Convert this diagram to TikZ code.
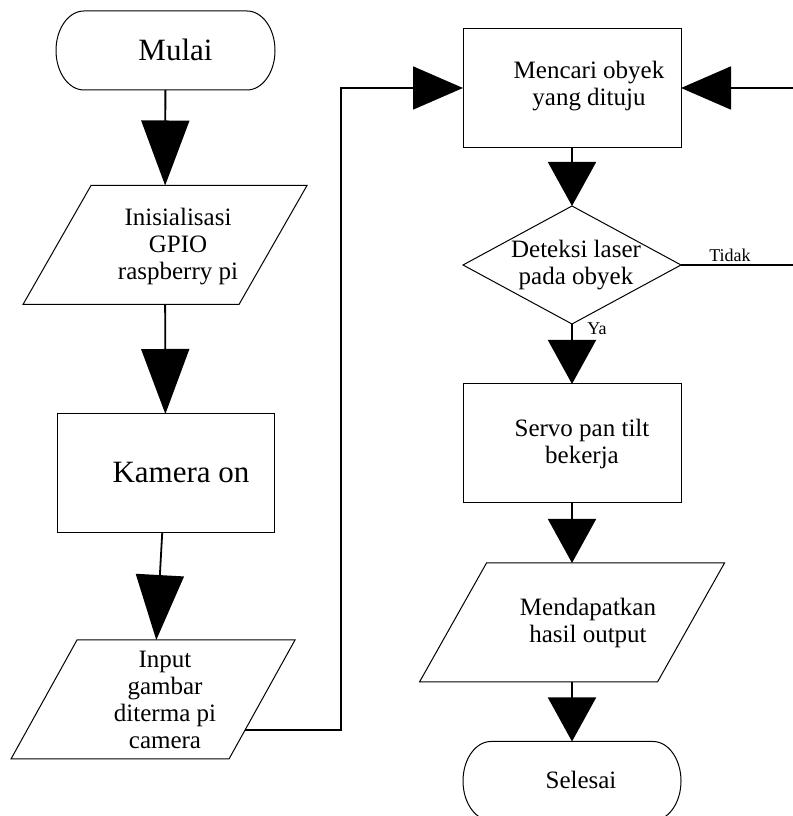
\documentclass[tikz,border=0pt]{standalone}
\usepackage{fontspec}
\setmainfont{Liberation Serif}
\usetikzlibrary{shapes.geometric,arrows.meta,calc}

% outline of a start/stop terminal with elliptic ends
\newcommand{\termoutline}[1]{%
  \draw[line width=1pt] ([xshift=28pt]#1.north west) -- ([xshift=-28pt]#1.north east)
    arc[start angle=90, end angle=-90, x radius=28pt, y radius=39.5pt]
    -- ([xshift=28pt]#1.south west)
    arc[start angle=270, end angle=90, x radius=28pt, y radius=39.5pt] -- cycle;}
% outline of an input/output parallelogram, #2 = slant offset
\newcommand{\iooutline}[2]{%
  \draw[line width=1pt] (#1.south west) -- ([xshift=-#2]#1.south east)
    -- (#1.north east) -- ([xshift=#2]#1.north west) -- cycle;}

\begin{document}
\begin{tikzpicture}[x=1pt,y=1pt,
  txt/.style={align=center,font=\fontsize{25}{27}\selectfont},
  bigtxt/.style={align=center,font=\fontsize{31}{33}\selectfont},
  smalltxt/.style={font=\fontsize{18}{20}\selectfont},
  term/.style={minimum width=219pt,minimum height=79pt,inner sep=0pt,outer sep=0pt},
  proc/.style={draw,line width=1pt,minimum width=218pt,minimum height=119pt,inner sep=0pt,outer sep=0pt},
  io/.style={minimum width=284pt,minimum height=119pt,inner sep=0pt,outer sep=0pt},
  decide/.style={draw,line width=1pt,diamond,minimum width=218pt,minimum height=118pt,inner sep=0pt,outer sep=0pt},
  conn/.style={line width=1.8pt},
  longarr/.style={-{Triangle[length=65pt,width=48pt]}},
  shortarr/.style={-{Triangle[length=44pt,width=48pt]}},
  sidearr/.style={-{Triangle[length=50pt,width=43pt]}}]
\useasboundingbox (0,0) rectangle (792,816);

% left column
\node[term] (mulai) at (165.5,765.5) {};
\termoutline{mulai}
\node[bigtxt] (mulaitxt) at (175.5,766) {Mulai};
\node[io] (init) at (165,571) {};
\iooutline{init}{68pt}
\node[txt] (inittxt) at (178,569) {Inisialisasi\\GPIO\\raspberry pi};
\node[proc,minimum width=217pt] (kamera) at (165.5,342.5) {};
\node[bigtxt] (kameratxt) at (181,343) {Kamera on};
\node[io] (input) at (153,116.5) {};
\iooutline{input}{66pt}
\node[txt] (inputtxt) at (165,116) {Input\\gambar\\diterma pi\\camera};

% right column
\node[proc] (mencari) at (572,728) {};
\node[txt] (mencaritxt) at (589,729.5) {Mencari obyek\\yang dituju};
\node[decide] (deteksi) at (572,551) {};
\node[txt] (deteksitxt) at (576,550.5) {Deteksi laser\\pada obyek};
\node[proc] (servo) at (572,372.5) {};
\node[txt] (servotxt) at (582,372) {Servo pan tilt\\bekerja};
\node[io,minimum width=305pt] (hasil) at (572,193.5) {};
\iooutline{hasil}{67pt}
\node[txt] (hasiltxt) at (588,193.5) {Mendapatkan\\hasil output};
\node[term,minimum width=218pt] (selesai) at (572,35) {};
\termoutline{selesai}
\node[txt] (selesaitxt) at (581,36) {Selesai};

\node[smalltxt] (tidak) at (730,561) {Tidak};
\node[smalltxt] (ya) at (597,487) {Ya};

\coordinate (inout) at ($(input.east)+(-50,-30.5)$);
\coordinate (bend) at (341,0);
\coordinate (loop) at (794,0);

% connectors
\draw[conn,longarr] (mulai) -- (init);
\draw[conn,longarr] (init) -- (kamera);
\draw[conn,longarr] (kamera) -- (input);
\draw[conn,sidearr] (inout) -| (bend |- mencari.west) -- (mencari.west);
\draw[conn,shortarr] (mencari) -- (deteksi);
\draw[conn,shortarr] (deteksi) -- (servo);
\draw[conn,shortarr] (servo) -- (hasil);
\draw[conn,shortarr] (hasil) -- (selesai);
\draw[conn,sidearr] (deteksi.east) -- (loop |- deteksi.east) -- (loop |- mencari.east) -- (mencari.east);
\end{tikzpicture}
\end{document}
